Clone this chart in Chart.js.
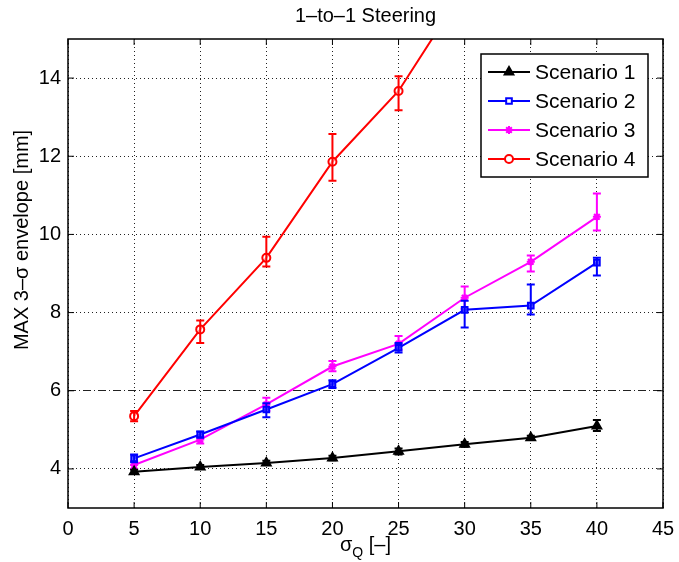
<!DOCTYPE html>
<html>
<head>
<meta charset="utf-8">
<script src="https://cdn.jsdelivr.net/npm/chart.js@4.4.1/dist/chart.umd.min.js"></script>
<style>
  html, body { margin: 0; padding: 0; background: #fff; }
  #wrap { width: 679px; height: 562px; }
</style>
</head>
<body>
<div id="wrap"><canvas id="chart"></canvas></div>
<script>
const sigmaQ = [5, 10, 15, 20, 25, 30, 35, 40];
const xTicks = [0, 5, 10, 15, 20, 25, 30, 35, 40, 45];
const yTicks = [4, 6, 8, 10, 12, 14];

const scenario1 = [3.93, 4.05, 4.15, 4.28, 4.45, 4.63, 4.80, 5.10];
const scenario1Low = [3.88, 4.00, 4.10, 4.22, 4.37, 4.57, 4.75, 4.97];
const scenario1High = [3.98, 4.10, 4.21, 4.34, 4.52, 4.69, 4.85, 5.25];

const scenario2 = [4.27, 4.88, 5.52, 6.17, 7.10, 8.07, 8.18, 9.28];
const scenario2Low = [4.17, 4.80, 5.32, 6.07, 6.98, 7.62, 7.95, 8.95];
const scenario2High = [4.37, 4.96, 5.68, 6.27, 7.22, 8.30, 8.72, 9.40];

const scenario3 = [4.10, 4.75, 5.65, 6.62, 7.20, 8.38, 9.30, 10.45];
const scenario3Low = [4.00, 4.65, 5.48, 6.50, 7.05, 8.10, 9.05, 10.10];
const scenario3High = [4.20, 4.85, 5.82, 6.76, 7.40, 8.67, 9.46, 11.05];

const scenario4 = [5.35, 7.57, 9.40, 11.86, 13.67, 16.30];
const scenario4Low = [5.22, 7.22, 9.18, 11.37, 13.18, 15.90];
const scenario4High = [5.48, 7.80, 9.94, 12.57, 14.05, 16.70];

const FONT = "'Liberation Sans', Arial, sans-serif";

function pts(vals) {
  return vals.map((v, i) => ({ x: sigmaQ[i], y: v }));
}

const series = [
  { label: "Scenario 1", vals: scenario1, lo: scenario1Low, hi: scenario1High, color: "#000000", style: "triangle", bg: "#000000", r: 5 },
  { label: "Scenario 2", vals: scenario2, lo: scenario2Low, hi: scenario2High, color: "#0000ff", style: "rect", bg: "rgba(90,90,255,0.8)", r: 4 },
  { label: "Scenario 3", vals: scenario3, lo: scenario3Low, hi: scenario3High, color: "#ff00ff", style: "star", bg: "#ff00ff", r: 4 },
  { label: "Scenario 4", vals: scenario4, lo: scenario4Low, hi: scenario4High, color: "#ff0000", style: "circle", bg: "rgba(255,255,255,0.6)", r: 4 }
];

// error bars drawn through the scales
const errorBars = {
  id: "errorBars",
  afterDatasetDraw(chart, args) {
    const s = series[args.index];
    const { ctx, chartArea: a, scales: { x, y } } = chart;
    ctx.save();
    ctx.beginPath();
    ctx.rect(a.left, a.top, a.right - a.left, a.bottom - a.top);
    ctx.clip();
    ctx.strokeStyle = s.color;
    ctx.lineWidth = 2;
    for (let i = 0; i < s.vals.length; i++) {
      const px = x.getPixelForValue(sigmaQ[i]);
      const y1 = y.getPixelForValue(s.lo[i]);
      const y2 = y.getPixelForValue(s.hi[i]);
      ctx.beginPath();
      ctx.moveTo(px, y1); ctx.lineTo(px, y2);
      ctx.moveTo(px - 4, y1); ctx.lineTo(px + 4, y1);
      ctx.moveTo(px - 4, y2); ctx.lineTo(px + 4, y2);
      ctx.stroke();
    }
    ctx.restore();
  }
};

// box, inner ticks, titles, legend
const decor = {
  id: "decor",
  afterDatasetsDraw(chart) {
    const { ctx, chartArea: a, scales: { x, y } } = chart;
    ctx.save();
    ctx.strokeStyle = "#000";
    ctx.lineWidth = 1.5;
    ctx.strokeRect(a.left, a.top, a.right - a.left, a.bottom - a.top);

    ctx.lineWidth = 1;
    ctx.beginPath();
    xTicks.forEach(v => {
      const px = x.getPixelForValue(v);
      ctx.moveTo(px, a.bottom); ctx.lineTo(px, a.bottom - 6);
      ctx.moveTo(px, a.top); ctx.lineTo(px, a.top + 6);
    });
    yTicks.forEach(v => {
      const py = y.getPixelForValue(v);
      ctx.moveTo(a.left, py); ctx.lineTo(a.left + 6, py);
      ctx.moveTo(a.right, py); ctx.lineTo(a.right - 6, py);
    });
    ctx.stroke();

    // legend
    const bx = a.right - 182, by = a.top + 15, bw = 167, bh = 123;
    ctx.fillStyle = "#fff";
    ctx.fillRect(bx, by, bw, bh);
    ctx.lineWidth = 1.5;
    ctx.strokeStyle = "#000";
    ctx.strokeRect(bx, by, bw, bh);
    series.forEach((s, i) => {
      const ry = by + 18 + i * 29;
      ctx.strokeStyle = s.color;
      ctx.lineWidth = 2;
      ctx.beginPath();
      ctx.moveTo(bx + 7, ry); ctx.lineTo(bx + 49, ry);
      ctx.stroke();
      ctx.fillStyle = s.style === "rect" || s.style === "circle" ? "#fff" : s.bg;
      Chart.helpers.drawPoint(ctx, { pointStyle: s.style, radius: s.r, rotation: 0, borderWidth: 2 }, bx + 28, ry);
      ctx.fillStyle = "#000";
      ctx.font = "21px " + FONT;
      ctx.textAlign = "left";
      ctx.textBaseline = "middle";
      ctx.fillText(s.label, bx + 54, ry + 1);
    });
    ctx.restore();
  },
  afterDraw(chart) {
    const { ctx, chartArea: a } = chart;
    const cx = (a.left + a.right) / 2;
    ctx.save();
    ctx.fillStyle = "#000";
    ctx.font = "20px " + FONT;
    ctx.textAlign = "center";
    ctx.textBaseline = "middle";
    ctx.fillText("1–to–1 Steering", cx, 16);

    // x axis title with subscript
    const big = "20px " + FONT, small = "14px " + FONT;
    ctx.font = big; const w1 = ctx.measureText("σ").width;
    ctx.font = small; const w2 = ctx.measureText("Q").width;
    ctx.font = big; const w3 = ctx.measureText(" [–]").width;
    let sx = cx - (w1 + w2 + w3) / 2;
    ctx.textAlign = "left";
    ctx.textBaseline = "alphabetic";
    ctx.font = big; ctx.fillText("σ", sx, 551);
    ctx.font = small; ctx.fillText("Q", sx + w1, 557);
    ctx.font = big; ctx.fillText(" [–]", sx + w1 + w2, 551);

    // y axis title
    ctx.translate(22, 240);
    ctx.rotate(-Math.PI / 2);
    ctx.textAlign = "center";
    ctx.textBaseline = "middle";
    ctx.font = "20px " + FONT;
    ctx.fillText("MAX 3–σ envelope [mm]", 0, 0);
    ctx.restore();
  }
};

const datasets = series.map(s => ({
  label: s.label,
  data: pts(s.vals),
  borderColor: s.color,
  backgroundColor: s.bg,
  borderWidth: 2,
  pointStyle: s.style,
  pointRadius: s.r,
  pointBorderWidth: 2,
  pointBorderColor: s.color,
  pointBackgroundColor: s.bg,
  tension: 0
}));

new Chart(document.getElementById("chart"), {
  type: "line",
  data: { datasets },
  options: {
    responsive: true,
    maintainAspectRatio: false,
    animation: false,
    events: [],
    layout: { padding: { top: 39, right: 16, left: 0, bottom: 0 } },
    plugins: { legend: { display: false }, title: { display: false }, tooltip: { enabled: false } },
    scales: {
      x: {
        type: "linear",
        min: 0,
        max: 45,
        afterBuildTicks: sc => { sc.ticks = xTicks.map(v => ({ value: v })); },
        afterFit: sc => { sc.height = 54; sc.paddingLeft = 0; sc.paddingRight = 0; },
        ticks: { autoSkip: false, maxRotation: 0, padding: 9, color: "#000", font: { family: FONT, size: 20 } },
        grid: { color: "#222", lineWidth: 1, drawTicks: false },
        border: { display: false, dash: [1, 3] }
      },
      y: {
        type: "linear",
        min: 3,
        max: 15,
        afterBuildTicks: sc => { sc.ticks = yTicks.map(v => ({ value: v })); },
        afterFit: sc => { sc.width = 68; sc.paddingTop = 0; sc.paddingBottom = 0; },
        ticks: { padding: 7, color: "#000", font: { family: FONT, size: 20 } },
        grid: { color: "#222", lineWidth: 1, drawTicks: false },
        border: {
          display: false,
          dash: ctx => (ctx.tick && ctx.tick.value === 6 ? [8, 3, 1, 3] : [1, 3])
        }
      }
    }
  },
  plugins: [errorBars, decor]
});
</script>
</body>
</html>
